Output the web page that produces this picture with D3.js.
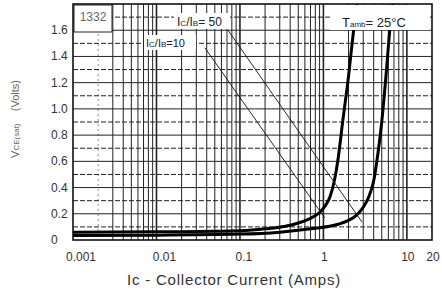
<!DOCTYPE html>
<html>
<head>
<meta charset="utf-8">
<script src="https://cdn.jsdelivr.net/npm/d3@7"></script>
<style>
  body { margin: 0; background: #fff; }
  text { font-family: "Liberation Sans", Arial, sans-serif; }
</style>
</head>
<body>
<div id="chart"></div>
<script>
// tick values / labels
const xTicks = [0.001, 0.01, 0.1, 1, 10, 20];
const xTickLabels = ["0.001", "0.01", "0.1", "1", "10", "20"];
const yTicks = [0, 0.2, 0.4, 0.6, 0.8, 1.0, 1.2, 1.4, 1.6];
const yTickLabels = ["0", "0.2", "0.4", "0.6", "0.8", "1.0", "1.2", "1.4", "1.6"];

// Ic/Ib = 50 curve (left)
const ic50 = [0.001, 0.01, 0.05, 0.1, 0.2, 0.35, 0.5, 0.7, 0.9, 1.05, 1.2, 1.35, 1.5, 1.7, 2.0, 2.3, 2.55];
const vce50 = [0.06, 0.062, 0.066, 0.07, 0.085, 0.105, 0.13, 0.165, 0.21, 0.26, 0.33, 0.45, 0.62, 0.9, 1.25, 1.6, 1.82];

// Ic/Ib = 10 curve (right)
const ic10 = [0.001, 0.01, 0.1, 0.3, 0.7, 1.5, 2.0, 2.5, 3.0, 3.5, 4.0, 4.5, 5.0, 5.6, 6.2, 6.8];
const vce10 = [0.035, 0.037, 0.045, 0.06, 0.085, 0.12, 0.15, 0.19, 0.25, 0.33, 0.45, 0.66, 0.9, 1.24, 1.58, 1.82];

// label leader lines [Ic, Vce]
const leader50 = [[0.072, 1.6], [2.9, 0.137]];
const leader10 = [[0.038, 1.466], [1.04, 0.168]];

const width = 442, height = 293;
const margin = { left: 73, right: 432, top: 4, bottom: 240 };

const svg = d3.select("#chart").append("svg")
  .attr("width", width)
  .attr("height", height);

const x = d3.scaleLog().domain([0.001, 20]).range([margin.left, margin.right]);
const y = d3.scaleLinear().domain([0, 1.8]).range([margin.bottom, margin.top]);

// vertical grid (1..9 per decade)
const vgrid = [];
for (let d = -3; d <= 1; d++) {
  for (let m = 1; m <= 9; m++) {
    const v = m * Math.pow(10, d);
    if (v > 0.001 && v < 20) vgrid.push(v);
  }
}
svg.append("g").selectAll("line")
  .data(vgrid)
  .enter().append("line")
  .attr("x1", d => x(d)).attr("x2", d => x(d))
  .attr("y1", margin.top).attr("y2", margin.bottom)
  .attr("stroke", d => d < 0.003 ? "#888" : "#222")
  .attr("stroke-dasharray", d => d < 0.003 ? "2,3" : null)
  .attr("stroke-width", d => Math.abs(Math.log10(d) - Math.round(Math.log10(d))) < 1e-6 ? 1.6 : 1);

// horizontal grid every 0.1 V
const hgrid = d3.range(1, 18).map(i => i / 10);
svg.append("g").selectAll("line")
  .data(hgrid)
  .enter().append("line")
  .attr("x1", margin.left).attr("x2", margin.right)
  .attr("y1", d => y(d)).attr("y2", d => y(d))
  .attr("stroke", "#222")
  .attr("stroke-width", 1)
  .attr("stroke-dasharray", (d, i) => i % 2 === 0 ? "5,2" : null);

// label box top-left
svg.append("rect").attr("x", margin.left + 1).attr("y", margin.top + 1).attr("width", 38).attr("height", 27)
  .attr("fill", "#fff").attr("stroke", "#222").attr("stroke-width", 1);
svg.append("text").attr("x", margin.left + 20).attr("y", 21)
  .attr("text-anchor", "middle").attr("font-size", 12).attr("fill", "#666")
  .text("1332");

svg.append("rect").attr("x", 174).attr("y", 13).attr("width", 56).attr("height", 16).attr("fill", "#fff");
svg.append("rect").attr("x", 144).attr("y", 35).attr("width", 52).attr("height", 15).attr("fill", "#fff");

// curves
const line = d3.line()
  .x(d => x(d[0]))
  .y(d => y(d[1]))
  .curve(d3.curveMonotoneX);

svg.append("clipPath").attr("id", "clip")
  .append("rect").attr("x", margin.left).attr("y", margin.top)
  .attr("width", margin.right - margin.left).attr("height", margin.bottom - margin.top);

svg.append("path")
  .datum(d3.zip(ic50, vce50))
  .attr("clip-path", "url(#clip)")
  .attr("d", line)
  .attr("fill", "none").attr("stroke", "#000").attr("stroke-width", 3);

svg.append("path")
  .datum(d3.zip(ic10, vce10))
  .attr("clip-path", "url(#clip)")
  .attr("d", line)
  .attr("fill", "none").attr("stroke", "#000").attr("stroke-width", 3);

// leader lines
[leader50, leader10].forEach(l => {
  svg.append("line")
    .attr("x1", x(l[0][0])).attr("y1", y(l[0][1]))
    .attr("x2", x(l[1][0])).attr("y2", y(l[1][1]))
    .attr("stroke", "#111").attr("stroke-width", 0.9);
});

// white band behind the temperature note (covers the curve tops)
svg.append("rect").attr("x", 330).attr("y", margin.top + 1).attr("width", 100).attr("height", 25).attr("fill", "#fff");

// frame
svg.append("rect")
  .attr("x", margin.left).attr("y", margin.top)
  .attr("width", margin.right - margin.left).attr("height", margin.bottom - margin.top)
  .attr("fill", "none")
  .attr("stroke", "#111")
  .attr("stroke-width", 1.6);

// curve labels
const lab50 = svg.append("text").attr("x", 177).attr("y", 26).attr("font-size", 12).attr("fill", "#222");
lab50.append("tspan").text("I");
lab50.append("tspan").attr("font-size", 8).text("C");
lab50.append("tspan").text("/I");
lab50.append("tspan").attr("font-size", 8).text("B");
lab50.append("tspan").text("= 50");

const lab10 = svg.append("text").attr("x", 146).attr("y", 47).attr("font-size", 11).attr("fill", "#222");
lab10.append("tspan").text("I");
lab10.append("tspan").attr("font-size", 8).text("C");
lab10.append("tspan").text("/I");
lab10.append("tspan").attr("font-size", 8).text("B");
lab10.append("tspan").text("=10");

const tamb = svg.append("text").attr("x", 342).attr("y", 27).attr("font-size", 13).attr("fill", "#222");
tamb.append("tspan").text("T");
tamb.append("tspan").attr("font-size", 8).text("amb");
tamb.append("tspan").text("= 25°C");

// axis tick labels
svg.append("g").selectAll("text")
  .data(yTicks)
  .enter().append("text")
  .attr("x", 51)
  .attr("y", d => y(d) + 4)
  .attr("font-size", 12)
  .attr("fill", "#333")
  .text((d, i) => yTickLabels[i]);

svg.append("g").selectAll("text")
  .data(xTicks)
  .enter().append("text")
  .attr("x", d => x(d) + (d < 0.1 ? 8 : d < 1 ? 4 : 1))
  .attr("y", 261)
  .attr("text-anchor", "middle")
  .attr("font-size", 12)
  .attr("fill", "#333")
  .text((d, i) => xTickLabels[i]);

// axis titles
svg.append("text")
  .attr("x", 234).attr("y", 285)
  .attr("text-anchor", "middle")
  .attr("font-size", 15)
  .attr("letter-spacing", 0.8)
  .attr("fill", "#333")
  .text("Ic - Collector Current (Amps)");

const ytitle = svg.append("text")
  .attr("transform", "translate(19,119) rotate(-90)")
  .attr("text-anchor", "middle")
  .attr("font-size", 11)
  .attr("fill", "#666")
  .attr("xml:space", "preserve");
ytitle.append("tspan").text("V");
ytitle.append("tspan").attr("font-size", 8).text("CE(sat)");
ytitle.append("tspan").text("    (Volts)");
</script>
</body>
</html>
